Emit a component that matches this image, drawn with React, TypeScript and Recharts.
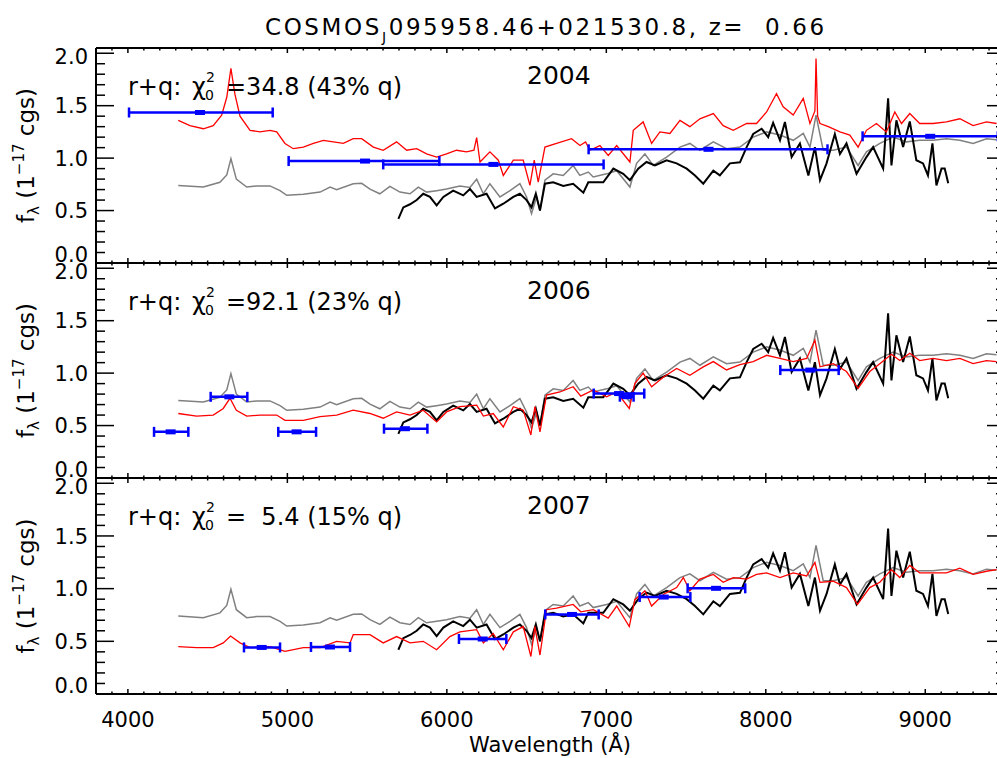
import React from "react";
import { ComposedChart, Line, Scatter, ErrorBar, XAxis, YAxis } from "recharts";

const FONT = "'DejaVu Sans', sans-serif";

// model spectrum (grey), same in every panel
const greyWave = [4316, 4473, 4577, 4620, 4646, 4680, 4745, 4808, 4891, 4954, 4996, 5100, 5205, 5268, 5309, 5413, 5466, 5518, 5580, 5643, 5706, 5769, 5821, 5873, 5936, 5998, 6082, 6145, 6187, 6229, 6270, 6333, 6396, 6458, 6500, 6531, 6563, 6584, 6615, 6667, 6730, 6792, 6834, 6887, 6918, 7002, 7065, 7148, 7190, 7242, 7294, 7378, 7462, 7524, 7587, 7671, 7754, 7838, 7921, 8005, 8089, 8172, 8235, 8277, 8315, 8360, 8423, 8506, 8579, 8631, 8715, 8798, 8882, 8965, 9049, 9133, 9217, 9300, 9384, 9447];
const greyFlux = [0.74, 0.724, 0.77, 0.84, 0.995, 0.8, 0.724, 0.735, 0.735, 0.69, 0.645, 0.655, 0.676, 0.724, 0.7, 0.756, 0.76, 0.705, 0.66, 0.73, 0.676, 0.66, 0.724, 0.676, 0.69, 0.705, 0.735, 0.72, 0.8, 0.66, 0.756, 0.63, 0.69, 0.756, 0.63, 0.47, 0.63, 0.5, 0.79, 0.85, 0.835, 0.93, 0.835, 0.867, 0.82, 0.85, 0.88, 0.724, 0.95, 1.04, 0.93, 1.01, 1.105, 1.14, 1.075, 1.155, 1.09, 1.105, 1.2, 1.25, 1.22, 1.17, 1.235, 1.105, 1.41, 1.075, 1.075, 1.105, 0.93, 1.06, 1.14, 1.2, 1.155, 1.17, 1.17, 1.185, 1.17, 1.14, 1.185, 1.175];

// observed spectrum (black), same in every panel
const blackWave = [5696, 5727, 5769, 5811, 5852, 5894, 5936, 5978, 6040, 6103, 6145, 6187, 6249, 6302, 6354, 6417, 6458, 6500, 6531, 6558, 6584, 6615, 6667, 6730, 6792, 6856, 6887, 6918, 6981, 7044, 7106, 7148, 7200, 7252, 7305, 7378, 7441, 7504, 7556, 7608, 7671, 7712, 7775, 7838, 7880, 7921, 7974, 8015, 8046, 8089, 8120, 8162, 8214, 8267, 8308, 8340, 8381, 8433, 8465, 8506, 8569, 8631, 8673, 8736, 8767, 8788, 8819, 8861, 8903, 8944, 8986, 9017, 9045, 9070, 9102, 9122, 9144];
const blackFlux = [0.42, 0.53, 0.56, 0.6, 0.66, 0.63, 0.55, 0.63, 0.69, 0.645, 0.705, 0.63, 0.66, 0.52, 0.565, 0.63, 0.66, 0.6, 0.53, 0.66, 0.5, 0.756, 0.77, 0.735, 0.756, 0.67, 0.77, 0.77, 0.77, 0.9, 0.85, 0.79, 0.9, 0.963, 0.93, 0.98, 0.95, 0.9, 0.835, 0.756, 0.88, 0.835, 0.95, 0.96, 1.105, 1.23, 1.28, 1.2, 1.335, 1.17, 1.345, 1.01, 1.14, 0.835, 1.105, 0.79, 0.95, 1.23, 1.04, 1.14, 0.85, 1.01, 1.105, 0.9, 1.57, 0.93, 1.36, 1.105, 1.35, 0.98, 0.95, 0.835, 1.14, 0.74, 0.9, 0.9, 0.76];

// r+q fits (red), one per epoch
const red2004Wave = [4316, 4389, 4473, 4535, 4588, 4620, 4646, 4671, 4703, 4766, 4828, 4891, 4933, 4985, 5037, 5100, 5163, 5226, 5288, 5351, 5413, 5466, 5539, 5601, 5685, 5748, 5811, 5873, 5936, 5998, 6061, 6124, 6170, 6187, 6208, 6270, 6323, 6354, 6417, 6479, 6521, 6548, 6573, 6615, 6688, 6782, 6835, 6870, 6897, 6960, 7012, 7065, 7148, 7169, 7231, 7284, 7336, 7399, 7462, 7524, 7587, 7671, 7733, 7796, 7880, 7942, 8005, 8067, 8109, 8172, 8235, 8277, 8308, 8315, 8325, 8340, 8392, 8465, 8527, 8579, 8631, 8694, 8756, 8809, 8851, 8903, 8965, 9049, 9133, 9217, 9300, 9384, 9447];
const red2004Flux = [1.36, 1.31, 1.28, 1.31, 1.41, 1.58, 1.855, 1.61, 1.4, 1.265, 1.25, 1.265, 1.25, 1.14, 1.09, 1.105, 1.14, 1.17, 1.155, 1.14, 1.185, 1.185, 1.105, 1.075, 1.155, 1.075, 1.09, 1.04, 1.01, 1.04, 1.075, 1.06, 1.075, 1.195, 0.963, 1.06, 0.98, 0.835, 0.98, 0.98, 0.74, 0.98, 0.77, 1.105, 1.14, 1.185, 1.12, 1.155, 1.075, 1.12, 1.025, 1.12, 0.963, 1.265, 1.345, 1.14, 1.25, 1.235, 1.36, 1.3, 1.375, 1.425, 1.31, 1.265, 1.33, 1.33, 1.44, 1.615, 1.49, 1.41, 1.57, 1.33, 1.45, 1.95, 1.4, 1.33, 1.3, 1.25, 1.22, 1.105, 1.265, 1.33, 1.25, 1.44, 1.33, 1.425, 1.33, 1.33, 1.345, 1.375, 1.31, 1.345, 1.33];

const red2006Wave = [4316, 4431, 4535, 4598, 4640, 4680, 4745, 4828, 4933, 4985, 5100, 5205, 5309, 5413, 5518, 5601, 5685, 5769, 5852, 5936, 5998, 6082, 6187, 6229, 6291, 6354, 6417, 6479, 6527, 6552, 6584, 6625, 6709, 6792, 6840, 6918, 7002, 7065, 7144, 7179, 7231, 7284, 7357, 7441, 7524, 7608, 7671, 7754, 7838, 7921, 8005, 8089, 8172, 8256, 8308, 8340, 8423, 8506, 8579, 8652, 8715, 8788, 8840, 8903, 8965, 9049, 9133, 9217, 9300, 9384, 9447];
const red2006Flux = [0.615, 0.59, 0.6, 0.663, 0.76, 0.645, 0.59, 0.6, 0.6, 0.55, 0.55, 0.585, 0.6, 0.647, 0.615, 0.57, 0.63, 0.6, 0.647, 0.535, 0.63, 0.68, 0.695, 0.59, 0.615, 0.487, 0.68, 0.647, 0.41, 0.68, 0.44, 0.79, 0.82, 0.87, 0.78, 0.84, 0.775, 0.82, 0.663, 0.9, 1.0, 0.87, 0.96, 1.045, 0.98, 1.06, 1.11, 1.03, 1.08, 1.11, 1.17, 1.14, 1.11, 1.14, 1.315, 1.06, 1.09, 1.015, 0.855, 1.015, 1.09, 1.18, 1.12, 1.19, 1.12, 1.14, 1.12, 1.14, 1.09, 1.12, 1.11];

const red2007Wave = [4316, 4431, 4535, 4598, 4644, 4703, 4766, 4891, 4985, 5100, 5205, 5309, 5393, 5413, 5518, 5601, 5685, 5769, 5852, 5936, 6019, 6082, 6187, 6229, 6291, 6354, 6417, 6479, 6527, 6552, 6584, 6625, 6688, 6792, 6840, 6918, 7012, 7065, 7144, 7179, 7242, 7284, 7357, 7441, 7483, 7524, 7587, 7671, 7733, 7796, 7880, 7942, 8005, 8089, 8172, 8256, 8308, 8340, 8423, 8506, 8575, 8652, 8715, 8788, 8840, 8903, 8965, 9049, 9133, 9217, 9300, 9384, 9447];
const red2007Flux = [0.45, 0.44, 0.44, 0.485, 0.55, 0.485, 0.44, 0.45, 0.405, 0.44, 0.44, 0.5, 0.485, 0.563, 0.563, 0.485, 0.545, 0.485, 0.5, 0.42, 0.545, 0.59, 0.61, 0.485, 0.575, 0.42, 0.59, 0.64, 0.356, 0.64, 0.37, 0.8, 0.815, 0.85, 0.78, 0.8, 0.72, 0.835, 0.64, 0.895, 0.98, 0.835, 0.945, 1.01, 1.105, 0.98, 1.09, 1.135, 1.06, 1.105, 1.09, 1.135, 1.15, 1.105, 1.15, 1.12, 1.25, 1.06, 1.07, 1.01, 0.85, 1.01, 1.06, 1.18, 1.105, 1.22, 1.15, 1.15, 1.15, 1.195, 1.135, 1.165, 1.18];

// photometry (blue): centre, flux, width below / above centre
const phot2004Center = [4452, 5487, 6292, 7641, 9031];
const phot2004Flux = [1.435, 0.972, 0.94, 1.084, 1.208];
const phot2004Lo = [445, 479, 691, 752, 424];
const phot2004Hi = [456, 466, 691, 746, 424];

const phot2006Center = [4268, 4636, 5058, 5737, 7080, 7128, 8279];
const phot2006Flux = [0.44, 0.774, 0.44, 0.47, 0.805, 0.775, 1.029];
const phot2006Lo = [104, 117, 115, 131, 159, 43, 188];
const phot2006Hi = [111, 113, 122, 141, 158, 43, 178];

const phot2007Center = [4839, 5267, 6225, 6785, 7360, 7688];
const phot2007Flux = [0.442, 0.446, 0.522, 0.755, 0.92, 1.003];
const phot2007Lo = [111, 119, 149, 168, 151, 178];
const phot2007Hi = [115, 126, 148, 167, 167, 183];

const years = ["2004", "2006", "2007"];
const chiValues = ["=34.8 (43% q)", "=92.1 (23% q)", "=  5.4 (15% q)"];
const xMajor = [4000, 5000, 6000, 7000, 8000, 9000];
const yLabels = ["0.0", "0.5", "1.0", "1.5", "2.0"];

const xTicks = Array.from({ length: 58 }, (_, i) => 3800 + i * 100);
const yTicks = Array.from({ length: 21 }, (_, i) => +(i / 10).toFixed(1));

const pts = (w: number[], f: number[]) => w.map((x, i) => ({ w: x, f: f[i] }));
const phot = (c: number[], f: number[], lo: number[], hi: number[]) =>
  c.map((x, i) => ({ w: x, f: f[i], err: [lo[i], hi[i]] }));

const greyData = pts(greyWave, greyFlux);
const blackData = pts(blackWave, blackFlux);
const redData = [pts(red2004Wave, red2004Flux), pts(red2006Wave, red2006Flux), pts(red2007Wave, red2007Flux)];
const photData = [
  phot(phot2004Center, phot2004Flux, phot2004Lo, phot2004Hi),
  phot(phot2006Center, phot2006Flux, phot2006Lo, phot2006Hi),
  phot(phot2007Center, phot2007Flux, phot2007Lo, phot2007Hi),
];

const panelTop = [48, 263, 478];
const panelH = [215, 215, 216];
const MT = 10;
const MB = 60;

function XTick(props: any) {
  const { x, y, payload, dir, labels } = props;
  const v = payload.value;
  const major = xMajor.includes(v);
  return (
    <g>
      <line x1={x} x2={x} y1={y} y2={y + dir * (major ? 5 : 2.5)} stroke="#000" strokeWidth={1.5} />
      {labels && major && (
        <text x={x} y={y + 33} textAnchor="middle" fontSize={21} fontFamily={FONT} fill="#000">
          {v}
        </text>
      )}
    </g>
  );
}

function YTick(props: any) {
  const { x, y, payload, dir, labels } = props;
  const v = payload.value;
  const k = Math.round(v * 10);
  const major = k % 5 === 0;
  // IDL lifts the bottom label, the top one sits a little low
  const shift = k === 0 ? -9 : k === 20 ? 3 : 0;
  return (
    <g>
      <line x1={x} x2={x + dir * (major ? 18 : 9)} y1={y} y2={y} stroke="#000" strokeWidth={1.5} />
      {labels && major && (
        <text x={x - 8} y={y + shift} dy="0.36em" textAnchor="end" fontSize={21} fontFamily={FONT} fill="#000">
          {yLabels[k / 5]}
        </text>
      )}
    </g>
  );
}

const CenterMark = (p: any) => <rect x={p.cx - 5} y={p.cy - 2.5} width={10} height={5} fill="#0000ff" />;

function Panel({ idx }: { idx: number }) {
  const last = idx === 2;
  const axisLine = { stroke: "#000", strokeWidth: 2 };
  return (
    <div style={{ position: "absolute", left: 0, top: panelTop[idx] - MT }}>
      <ComposedChart
        width={1020}
        height={panelH[idx] + MT + MB}
        margin={{ top: MT - 1, right: 14, bottom: MB - 1, left: 0 }}
      >
        <XAxis
          xAxisId="b"
          dataKey="w"
          type="number"
          domain={[3800, 9500]}
          allowDataOverflow
          ticks={xTicks}
          interval={0}
          height={1}
          tickSize={0}
          tickMargin={0}
          tickLine={false}
          axisLine={axisLine}
          tick={(p: any) => <XTick {...p} dir={-1} labels={last} />}
        />
        <XAxis
          xAxisId="t"
          orientation="top"
          dataKey="w"
          type="number"
          domain={[3800, 9500]}
          allowDataOverflow
          ticks={xTicks}
          interval={0}
          height={1}
          tickSize={0}
          tickMargin={0}
          tickLine={false}
          axisLine={axisLine}
          tick={(p: any) => <XTick {...p} dir={1} labels={false} />}
        />
        <YAxis
          yAxisId="l"
          dataKey="f"
          type="number"
          domain={[0, 2.05]}
          allowDataOverflow
          ticks={yTicks}
          interval={0}
          width={96}
          tickSize={0}
          tickMargin={0}
          tickLine={false}
          axisLine={axisLine}
          tick={(p: any) => <YTick {...p} dir={1} labels />}
        />
        <YAxis
          yAxisId="r"
          orientation="right"
          dataKey="f"
          type="number"
          domain={[0, 2.05]}
          allowDataOverflow
          ticks={yTicks}
          interval={0}
          width={1}
          tickSize={0}
          tickMargin={0}
          tickLine={false}
          axisLine={axisLine}
          tick={(p: any) => <YTick {...p} dir={-1} labels={false} />}
        />
        <Line xAxisId="b" yAxisId="l" data={greyData} dataKey="f" type="linear" stroke="#808080" strokeWidth={1.5} dot={false} isAnimationActive={false} />
        <Line xAxisId="b" yAxisId="l" data={blackData} dataKey="f" type="linear" stroke="#000" strokeWidth={2} dot={false} isAnimationActive={false} />
        <Line xAxisId="b" yAxisId="l" data={redData[idx]} dataKey="f" type="linear" stroke="#ff0000" strokeWidth={1.3} dot={false} isAnimationActive={false} />
        <Scatter xAxisId="b" yAxisId="l" data={photData[idx]} dataKey="f" fill="#0000ff" shape={CenterMark} isAnimationActive={false}>
          <ErrorBar dataKey="err" direction="x" width={5} stroke="#0000ff" strokeWidth={2.5} />
        </Scatter>
      </ComposedChart>
    </div>
  );
}

export default function App() {
  return (
    <div style={{ position: "absolute", left: 0, top: 0, width: 997, height: 758, overflow: "hidden", background: "#fff" }}>
      {[0, 1, 2].map((i) => (
        <Panel key={i} idx={i} />
      ))}
      <svg width={997} height={758} style={{ position: "absolute", left: 0, top: 0, pointerEvents: "none" }} fontFamily={FONT}>
        <text x={265} y={35} fontSize={23} letterSpacing={2.6} style={{ whiteSpace: "pre" }}>
          COSMOS<tspan fontSize={14} dy={7}>J</tspan>
          <tspan dy={-7}>095958.46+021530.8, z=  0.66</tspan>
        </text>
        {[0, 1, 2].map((i) => {
          const top = panelTop[i];
          const base = top + 46.5;
          const mid = top + panelH[i] / 2;
          return (
            <g key={i}>
              <text x={128} y={base} fontSize={24}>r+q:</text>
              <text x={192} y={base} fontSize={24}>χ</text>
              <text x={206} y={base - 12.5} fontSize={14}>2</text>
              <text x={205} y={base + 5} fontSize={14}>0</text>
              <text x={226} y={base} fontSize={24} style={{ whiteSpace: "pre" }}>{chiValues[i]}</text>
              <text x={527} y={top + 36} fontSize={25}>{years[i]}</text>
              <text transform={`translate(34,${mid}) rotate(-90)`} textAnchor="middle" fontSize={23} style={{ whiteSpace: "pre" }}>
                f<tspan fontSize={15} dy={5}>λ</tspan>
                <tspan dy={-5}> (1</tspan>
                <tspan fontSize={15} dy={-10}>−17</tspan>
                <tspan dy={10}> cgs)</tspan>
              </text>
            </g>
          );
        })}
        <text x={550} y={752} textAnchor="middle" fontSize={21}>Wavelength (Å)</text>
      </svg>
    </div>
  );
}
